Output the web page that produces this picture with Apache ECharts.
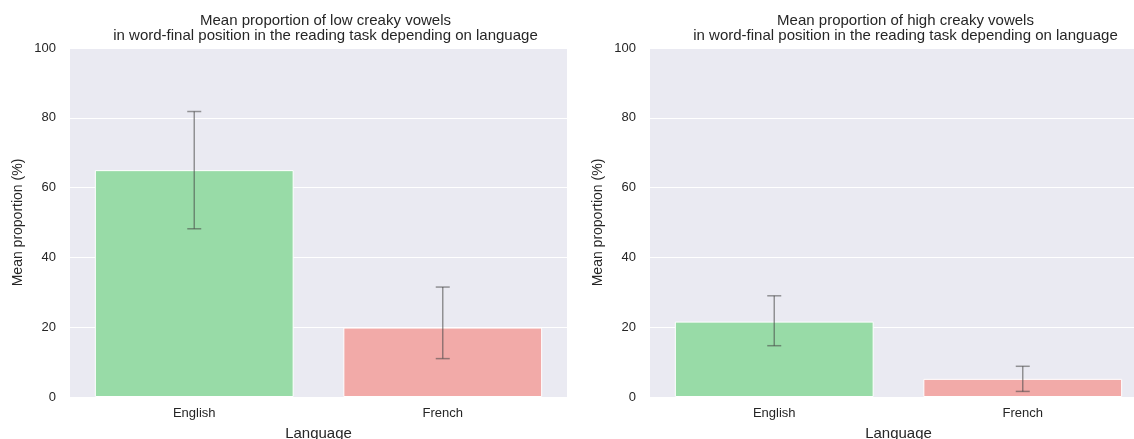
<!DOCTYPE html>
<html lang="en">
<head>
    <meta charset="UTF-8">
    <title>Creaky vowels</title>
    <script src="https://cdn.jsdelivr.net/npm/echarts@6/dist/echarts.min.js"></script>
    <style>
        body { margin: 0; padding: 0; background: #ffffff; }
        #chart { width: 1134px; height: 439px; }
    </style>
</head>
<body>
<div id="chart"></div>
<script>
// data
const languages = ['English', 'French'];
const barColors = ['#98dba7', '#f2aaa8'];

const lowMeans = [65.0, 19.9];
const lowLower = [48.2, 11.0];
const lowUpper = [81.8, 31.5];

const highMeans = [21.6, 5.2];
const highLower = [14.7, 1.6];
const highUpper = [29.0, 8.8];

const titles = [
    'Mean proportion of low creaky vowels\nin word-final position in the reading task depending on language',
    'Mean proportion of high creaky vowels\nin word-final position in the reading task depending on language'
];

const chart = echarts.init(document.getElementById('chart'));
const textColor = '#262626';
const font = 'Liberation Sans, Arial, sans-serif';

// grid positions for the two panels (right one runs past the edge, as in the original)
const panels = [
    { left: 70, top: 48, width: 497, height: 349 },
    { left: 650, top: 48, width: 497, height: 349 }
];

function barSeries(idx, means) {
    return {
        type: 'bar',
        xAxisIndex: idx,
        yAxisIndex: idx,
        barCategoryGap: '20%',
        data: means.map((v, i) => ({
            value: v,
            itemStyle: { color: barColors[i], borderColor: '#ffffff', borderWidth: 1 }
        })),
        silent: true,
        z: 2
    };
}

function errorSeries(idx, lower, upper) {
    return {
        type: 'custom',
        xAxisIndex: idx,
        yAxisIndex: idx,
        data: languages.map((c, i) => [i, lower[i], upper[i]]),
        renderItem: function (params, api) {
            const lo = api.coord([api.value(0), api.value(1)]);
            const hi = api.coord([api.value(0), api.value(2)]);
            const hw = 7;
            const style = { stroke: 'rgba(70,70,70,0.55)', lineWidth: 1.5 };
            return {
                type: 'group',
                children: [
                    { type: 'line', shape: { x1: lo[0], y1: lo[1], x2: hi[0], y2: hi[1] }, style: style },
                    { type: 'line', shape: { x1: lo[0] - hw, y1: lo[1], x2: lo[0] + hw, y2: lo[1] }, style: style },
                    { type: 'line', shape: { x1: hi[0] - hw, y1: hi[1], x2: hi[0] + hw, y2: hi[1] }, style: style }
                ]
            };
        },
        silent: true,
        z: 5
    };
}

const option = {
    animation: false,
    textStyle: { fontFamily: font },
    title: panels.map((p, i) => ({
        text: titles[i],
        left: p.left + p.width / 2 + 2,
        top: 8,
        textAlign: 'center',
        textStyle: { fontSize: 15, fontWeight: 'normal', color: textColor, lineHeight: 15, fontFamily: font }
    })),
    grid: panels.map(p => ({
        left: p.left, top: p.top, width: p.width, height: p.height,
        outerBoundsMode: 'none',
        containLabel: false,
        show: true, backgroundColor: '#eaeaf2', borderWidth: 0
    })),
    xAxis: panels.map((p, i) => ({
        type: 'category',
        gridIndex: i,
        data: languages,
        name: 'Language',
        nameLocation: 'middle',
        nameGap: 29,
        nameTextStyle: { fontSize: 15, color: textColor },
        axisLine: { show: false },
        axisTick: { show: false },
        axisLabel: { fontSize: 13, color: textColor, margin: 10 }
    })),
    yAxis: panels.map((p, i) => ({
        type: 'value',
        gridIndex: i,
        min: 0,
        max: 100,
        interval: 20,
        name: 'Mean proportion (%)',
        nameLocation: 'middle',
        nameGap: 45,
        nameTextStyle: { fontSize: 14, color: textColor },
        axisLine: { show: false },
        axisTick: { show: false },
        axisLabel: { fontSize: 13, color: textColor, margin: 14 },
        splitLine: { lineStyle: { color: '#ffffff', width: 1 } }
    })),
    series: [
        barSeries(0, lowMeans),
        errorSeries(0, lowLower, lowUpper),
        barSeries(1, highMeans),
        errorSeries(1, highLower, highUpper)
    ]
};

chart.setOption(option);
</script>
</body>
</html>
